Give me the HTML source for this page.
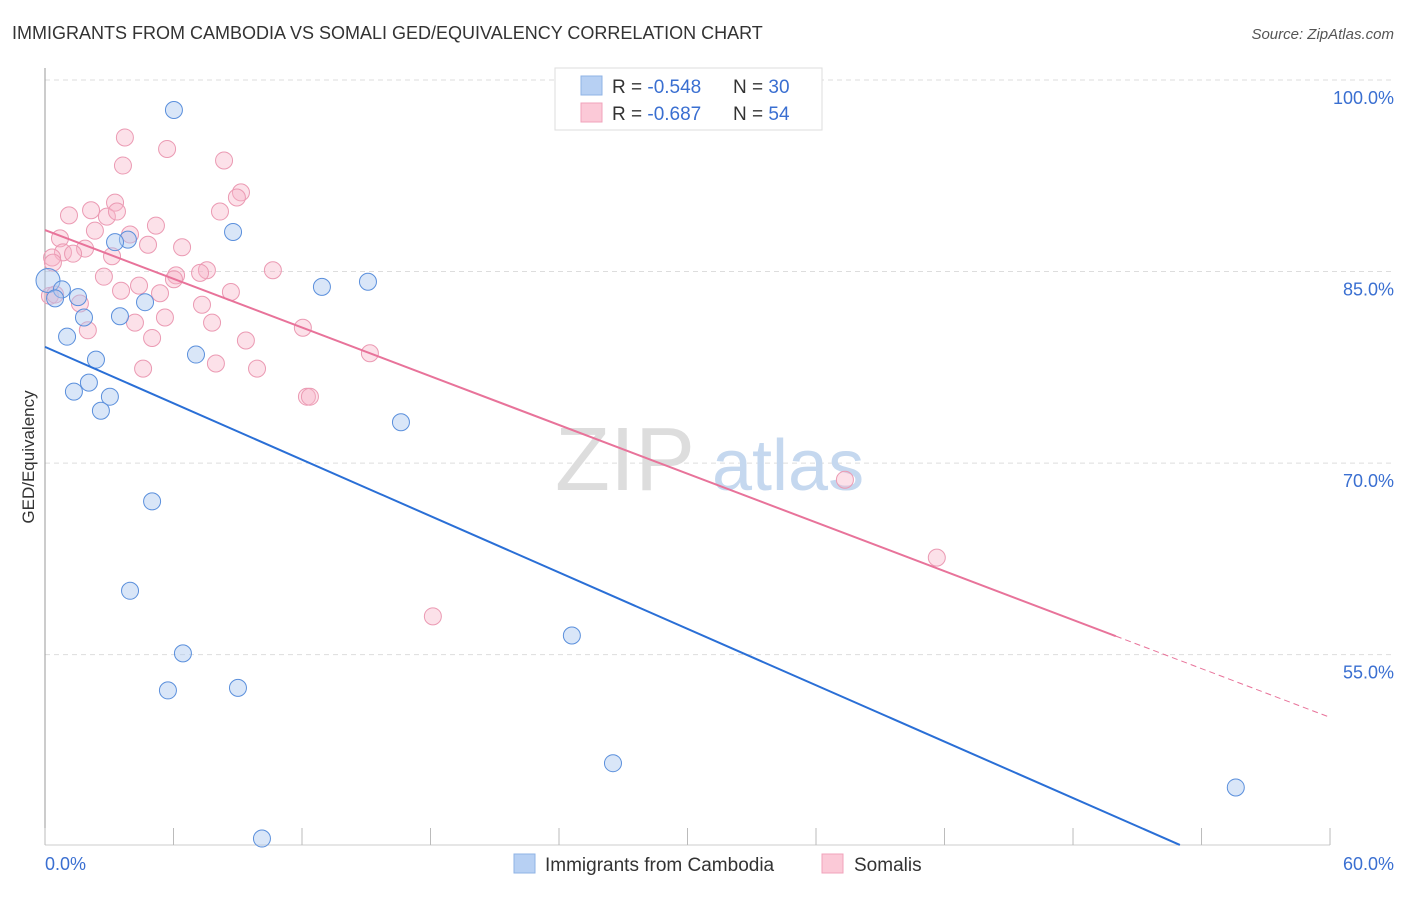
<!DOCTYPE html>
<html><head><meta charset="utf-8"><style>
body{margin:0;background:#fff;font-family:"Liberation Sans",sans-serif;}
svg text{font-family:"Liberation Sans",sans-serif;}
</style></head><body>
<svg width="1406" height="892" viewBox="0 0 1406 892">
<text x="12" y="39" font-size="18" fill="#333">IMMIGRANTS FROM CAMBODIA VS SOMALI GED/EQUIVALENCY CORRELATION CHART</text>
<text x="1394" y="39" font-size="15" fill="#555" font-style="italic" text-anchor="end">Source: ZipAtlas.com</text>
<g id="grid"></g>
<g><text x="555" y="490" font-size="90" fill="#ddd" font-family="Liberation Serif">ZIP</text><text x="712" y="490" font-size="72" fill="#c5d8ef">atlas</text></g>
<line x1="45" y1="68" x2="45" y2="845" stroke="#999"/>
<line x1="45" y1="845" x2="1330" y2="845" stroke="#ccc"/>
<g id="ticks"></g>
<g id="pts"></g>
<g id="trend"></g>
<text x="45" y="870" font-size="18" fill="#3a6fd1">0.0%</text>
<text x="1394" y="870" font-size="18" fill="#3a6fd1" text-anchor="end">60.0%</text>
<text transform="translate(34,457) rotate(-90)" font-size="17" fill="#333" text-anchor="middle">GED/Equivalency</text>
<g>
<rect x="555" y="68" width="267" height="62" fill="#fff" stroke="#ddd"/>
<rect x="581" y="76" width="21" height="19" fill="#b7d0f3" stroke="#8fb3e6"/>
<rect x="581" y="103" width="21" height="19" fill="#fbc9d7" stroke="#f0a3bb"/>
<text x="612" y="93" font-size="19" fill="#333">R = <tspan fill="#3a6fd1">-0.548</tspan><tspan x="733">N = </tspan><tspan fill="#3a6fd1">30</tspan></text>
<text x="612" y="120" font-size="19" fill="#333">R = <tspan fill="#3a6fd1"> -0.687</tspan><tspan x="733">N = </tspan><tspan fill="#3a6fd1">54</tspan></text>
</g>
<g>
<rect x="514" y="854" width="21" height="19" fill="#b7d0f3" stroke="#8fb3e6"/>
<text x="545" y="871" font-size="19" fill="#333">Immigrants from Cambodia</text>
<rect x="822" y="854" width="21" height="19" fill="#fbc9d7" stroke="#f0a3bb"/>
<text x="854" y="871" font-size="19" fill="#333">Somalis</text>
</g>
</svg>
<script>
const yTicks=[100,85,70,55];
const yTickLabels=["100.0%","85.0%","70.0%","55.0%"];
const xTicks=[0,6,12,18,24,30,36,42,48,54,60];
const blueX=[6.02,8.78,3.87,3.27,0.14,0.79,0.47,1.54,15.08,12.93,4.67,3.5,1.82,1.03,7.05,2.38,2.05,1.35,3.03,2.61,16.62,5.0,3.97,6.44,5.74,9.01,24.6,26.52,10.13,55.6];
const blueY=[97.65,88.1,87.5,87.3,84.3,83.6,82.9,83.0,84.2,83.8,82.6,81.5,81.4,79.9,78.5,78.1,76.3,75.6,75.2,74.1,73.2,67.0,60.0,55.1,52.2,52.4,56.5,46.5,40.6,44.6];
const pinkX=[3.73,5.7,8.36,3.64,9.15,8.96,3.27,8.17,2.15,1.12,2.89,5.18,2.33,3.97,0.7,4.81,6.4,1.87,0.84,1.31,3.13,0.33,0.37,2.75,10.64,7.56,7.24,6.12,6.02,4.39,3.55,5.37,8.68,0.23,0.47,1.63,7.33,4.2,7.8,5.6,2.0,5.0,9.38,12.04,15.17,7.98,4.58,9.9,12.23,12.37,37.35,41.64,18.11,3.36];
const pinkY=[95.5,94.6,93.7,93.3,91.2,90.8,90.4,89.7,89.8,89.4,89.3,88.6,88.2,87.9,87.6,87.1,86.9,86.8,86.5,86.4,86.2,86.1,85.7,84.6,85.1,85.1,84.9,84.7,84.4,83.9,83.5,83.3,83.4,83.1,83.2,82.5,82.4,81.0,81.0,81.4,80.4,79.8,79.6,80.6,78.6,77.8,77.4,77.4,75.2,75.2,68.7,62.6,58.0,89.7];
const blueTrend=[79.1,-0.736];
const pinkTrend=[88.25,-0.636];
const NS="http://www.w3.org/2000/svg";
const sx=v=>45+v*21.417, sy=v=>80+(100-v)*12.77;
function mk(t,a,p){const e=document.createElementNS(NS,t);for(const k in a)e.setAttribute(k,a[k]);document.getElementById(p).appendChild(e);return e;}
yTicks.forEach((t,i)=>{
 const l=mk('line',{x1:45,x2:1394,y1:sy(t),y2:sy(t),stroke:'#ddd','stroke-dasharray':'5,4'},'grid');
 
 
 const tx=mk('text',{x:1394,y:sy(t)+24,'font-size':18,fill:'#3a6fd1','text-anchor':'end'},'grid');
 tx.textContent=yTickLabels[i];
 
 
});
xTicks.forEach(t=>{
 const l=mk('line',{x1:sx(t),x2:sx(t),y1:828,y2:845,stroke:'#bbb'},'ticks');
 
 
});
pinkX.forEach((x,i)=>{
 const c=mk('circle',{cx:sx(x),cy:sy(pinkY[i]),r:8.5,fill:'rgba(248,180,200,0.4)',stroke:'#eb9ab3','stroke-width':1},'pts');
 
 
});
blueX.forEach((x,i)=>{
 const c=mk('circle',{cx:sx(x),cy:sy(blueY[i]),r:i==4?12:8.5,fill:'rgba(170,200,240,0.45)',stroke:'#5a8fdc','stroke-width':1},'pts');
 
 
});
const bEnd=(40.1-blueTrend[0])/blueTrend[1];
const bl=mk('line',{x1:sx(0),y1:sy(blueTrend[0]),x2:sx(bEnd),y2:sy(40.1),stroke:'#2a6fd6','stroke-width':2},'trend');


const pl=mk('line',{x1:sx(0),y1:sy(pinkTrend[0]),x2:sx(50),y2:sy(pinkTrend[0]+pinkTrend[1]*50),stroke:'#e8739a','stroke-width':2},'trend');


const pd=mk('line',{x1:sx(50),y1:sy(pinkTrend[0]+pinkTrend[1]*50),x2:sx(60),y2:sy(pinkTrend[0]+pinkTrend[1]*60),stroke:'#e8739a','stroke-width':1,'stroke-dasharray':'6,4'},'trend');


</script>
</body></html>
